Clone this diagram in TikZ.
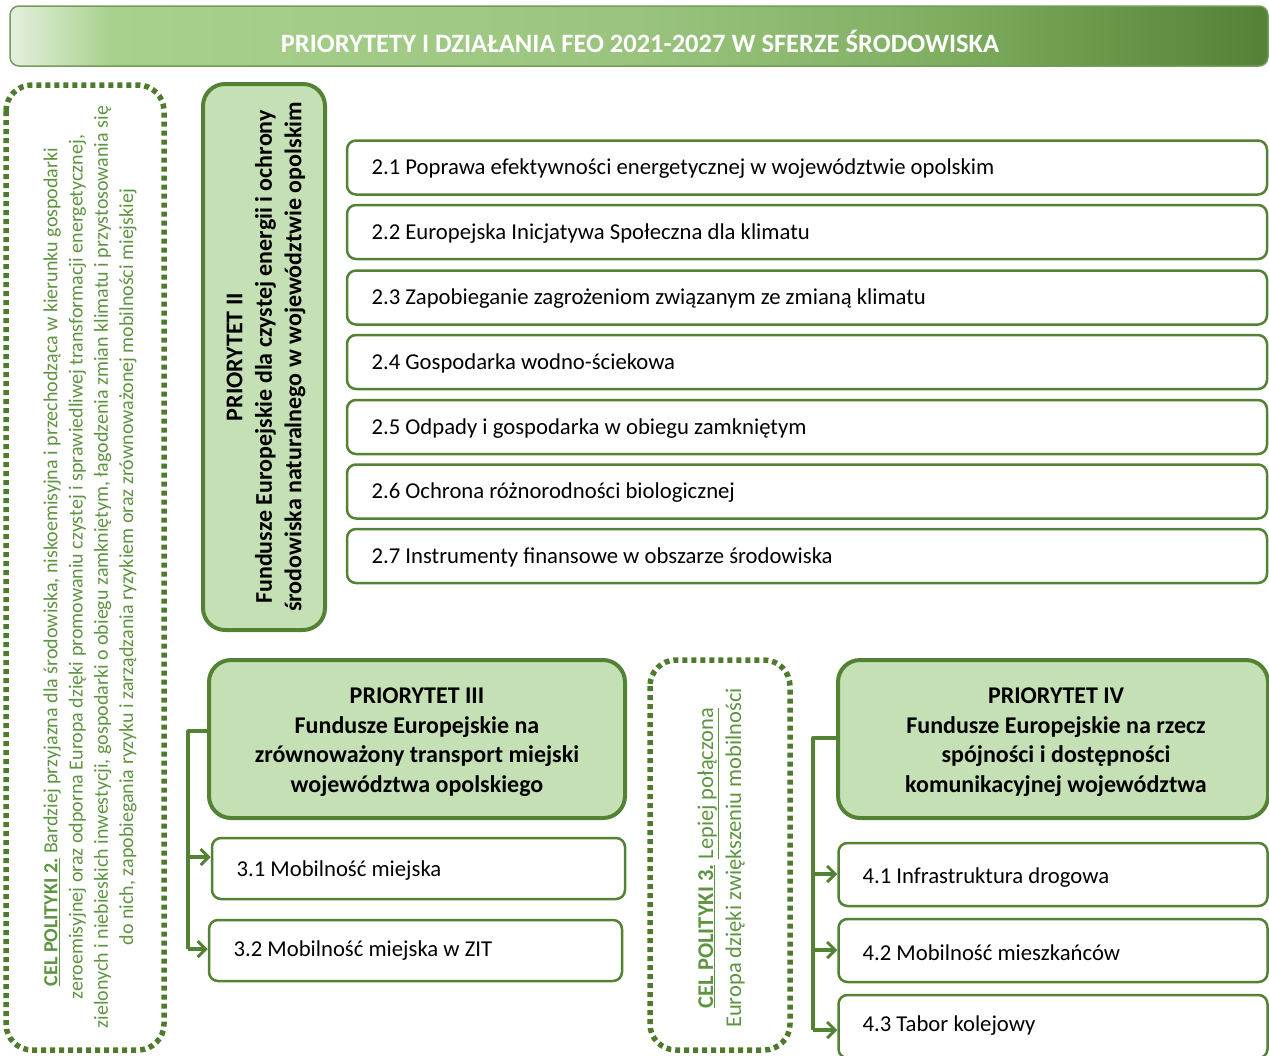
\documentclass[tikz,border=0pt]{standalone}
\usepackage{fontspec}
\setmainfont{Carlito}
\usetikzlibrary{arrows.meta}
\definecolor{dkgreen}{HTML}{548235}
\definecolor{ltgreen}{HTML}{C5E0B4}
\definecolor{txtgreen}{HTML}{5E9441}
\definecolor{dotgreen}{HTML}{4E7A2C}
\definecolor{shA}{HTML}{E4F0DD}
\definecolor{shB}{HTML}{A9D18E}
\definecolor{shC}{HTML}{9AC47E}
\definecolor{shD}{HTML}{7FAE61}
\definecolor{shE}{HTML}{538135}
\pgfdeclarehorizontalshading{titleshade}{100bp}{%
  color(0bp)=(shA);
  color(25bp)=(shA);
  color(29bp)=(shB);
  color(50bp)=(shC);
  color(62bp)=(shD);
  color(75bp)=(shE);
  color(100bp)=(shE)}
\tikzset{
  prio/.style={draw=dkgreen, line width=4pt, fill=ltgreen, rounded corners=22pt},
  item/.style={draw=dkgreen, line width=2.5pt, fill=white, rounded corners=9pt},
  itemtext/.style={anchor=west, font=\fontsize{22.7}{26}\selectfont, text=black},
  priotext/.style={align=center, font=\fontsize{24}{29.5}\selectfont\bfseries, text=black},
  goal/.style={draw=dotgreen, line width=5.5pt, dash pattern=on 5pt off 4pt, rounded corners=26pt},
  goaltext/.style={align=center, rotate=90, text=txtgreen},
  conn/.style={draw=dkgreen, line width=3.5pt, -{Straight Barb[length=8pt,width=16pt,line width=3pt]}},
}
\begin{document}
\begin{tikzpicture}[x=1pt,y=-1pt]
\useasboundingbox (0,0) rectangle (1269,1055);
% title
\node[draw=dkgreen!80!white, line width=1.5pt, rounded corners=9pt, shading=titleshade,
      minimum width=1258pt, minimum height=60pt, inner sep=0pt] (title) at (639,36) {};
\node[font=\fontsize{26.5}{30}\selectfont\bfseries, text=white] (titletext) at (640,41)
  {PRIORYTETY I DZIAŁANIA FEO 2021-2027 W SFERZE ŚRODOWISKA};
% left goal box
\draw[goal] (6,85) rectangle (164,1050);
\node[goaltext, font=\fontsize{20}{25.2}\selectfont] (goal2) at (90,567)
  {\textbf{\underline{CEL POLITYKI 2.}} Bardziej przyjazna dla środowiska, niskoemisyjna i przechodząca w kierunku gospodarki\\
   zeroemisyjnej oraz odporna Europa dzięki promowaniu czystej i sprawiedliwej transformacji energetycznej,\\
   zielonych i niebieskich inwestycji, gospodarki o obiegu zamkniętym, łagodzenia zmian klimatu i przystosowania się\\
   do nich, zapobiegania ryzyku i zarządzania ryzykiem oraz zrównoważonej mobilności miejskiej};
% priority II
\draw[prio] (203,84) rectangle (325,630);
\node[priotext, rotate=90] (p2) at (266,357)
  {PRIORYTET II\\ Fundusze Europejskie dla czystej energii i ochrony\\ środowiska naturalnego w województwie opolskim};
% items 2.x
\foreach \n/\yc/\t in {1/167.5/{2.1 Poprawa efektywności energetycznej w województwie opolskim},
                      2/232/{2.2 Europejska Inicjatywa Społeczna dla klimatu},
                      3/297.5/{2.3 Zapobieganie zagrożeniom związanym ze zmianą klimatu},
                      4/362/{2.4 Gospodarka wodno-ściekowa},
                      5/427/{2.5 Odpady i gospodarka w obiegu zamkniętym},
                      6/491.5/{2.6 Ochrona różnorodności biologicznej},
                      7/556/{2.7 Instrumenty finansowe w obszarze środowiska}}{
  \draw[item] (347,\yc-27) rectangle (1267,\yc+27);
  \node[itemtext] (i2\n) at (368,\yc+1.5) {\t};
}
% priority III
\node[prio, minimum width=416pt, minimum height=158pt, inner sep=0pt] (p3) at (417,739) {};
\node[priotext] (p3t) at (417,742)
  {PRIORYTET III\\ Fundusze Europejskie na\\ zrównoważony transport miejski\\ województwa opolskiego};
\node[item, minimum width=413pt, minimum height=61pt, inner sep=0pt] (i31) at (418.5,868.5) {};
\node[itemtext] at (233,871) {3.1 Mobilność miejska};
\node[item, minimum width=413pt, minimum height=61pt, inner sep=0pt] (i32) at (415.5,950.5) {};
\node[itemtext] at (230,951) {3.2 Mobilność miejska w ZIT};
\coordinate (c3) at (188,731);
\draw[dkgreen, line width=3.5pt, line join=round] (p3.west |- c3) -- (c3) -- (188,949);
\draw[conn] (188,857) -- (i31.west |- 0,857);
\draw[conn] (188,949) -- (i32.west |- 0,949);
% goal 3
\draw[goal] (650,660) rectangle (790,1050);
\node[goaltext, font=\fontsize{22.5}{28}\selectfont] (goal3) at (721,858)
  {\textbf{\underline{CEL POLITYKI 3.}} \underline{Lepiej połączona}\\ Europa dzięki zwiększeniu mobilności};
% priority IV
\node[prio, minimum width=430pt, minimum height=158pt, inner sep=0pt] (p4) at (1053,739) {};
\node[priotext] (p4t) at (1056,742)
  {PRIORYTET IV\\ Fundusze Europejskie na rzecz\\ spójności i dostępności\\ komunikacyjnej województwa};
\node[item, minimum width=429pt, minimum height=63pt, inner sep=0pt] (i41) at (1053,874.5) {};
\node[itemtext] at (859,878) {4.1 Infrastruktura drogowa};
\node[item, minimum width=429pt, minimum height=63pt, inner sep=0pt] (i42) at (1053,950.5) {};
\node[itemtext] at (859,953) {4.2 Mobilność mieszkańców};
\node[item, minimum width=429pt, minimum height=63pt, inner sep=0pt] (i43) at (1053,1026.5) {};
\node[itemtext] at (859,1026) {4.3 Tabor kolejowy};
\coordinate (c4) at (813,738);
\draw[dkgreen, line width=4pt, line join=round] (p4.west |- c4) -- (c4) -- (813,1030);
\draw[conn] (813,874) -- (i41.west |- 0,874);
\draw[conn] (813,950) -- (i42.west |- 0,950);
\draw[conn] (813,1030) -- (i43.west |- 0,1030);
\end{tikzpicture}
\end{document}
